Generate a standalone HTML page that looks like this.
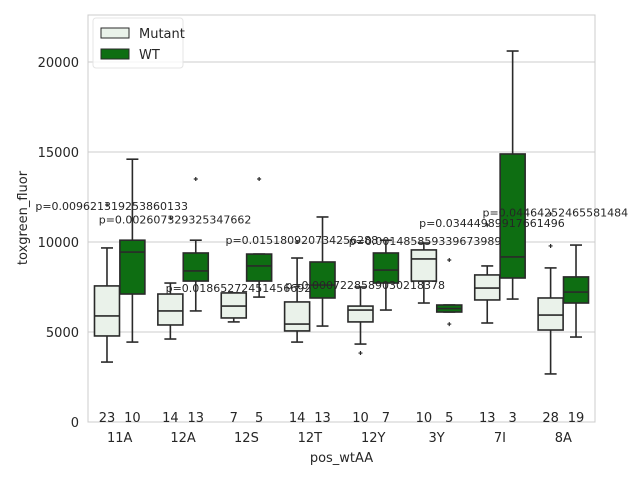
<!DOCTYPE html>
<html><head><meta charset="utf-8"><style>body{margin:0;background:#fff}svg{font-family:"DejaVu Sans","Liberation Sans",sans-serif}</style></head>
<body>
<svg id="c" width="640" height="480"></svg>
<script>
const categories=["11A","12A","12S","12T","12Y","3Y","7I","8A"];
const mutLow=[3330,4610,5560,4440,4330,6610,5500,2670];
const mutQ1=[4780,5390,5780,5060,5560,7830,6780,5110];
const mutMed=[5890,6170,6440,5440,6220,9060,7440,5940];
const mutQ3=[7560,7110,7170,6670,6440,9560,8170,6890];
const mutHigh=[9670,7720,7170,9110,7500,9940,8670,8560];
const wtLow=[4440,6170,6940,5330,6220,6110,6830,4720];
const wtQ1=[7110,7830,7830,6890,7720,6110,8000,6610];
const wtMed=[9440,8390,8670,7610,8440,6300,9170,7220];
const wtQ3=[10100,9390,9330,8890,9390,6500,14890,8060];
const wtHigh=[14600,10100,9330,11390,10100,6500,20610,9830];
const mutOutliers=[[12060],[11330],[],[10000],[3830],[],[10940],[11560,9780]];
const wtOutliers=[[],[13500],[13500],[],[],[9000,5440],[],[]];
const mutN=[23,14,7,14,10,10,13,28];
const wtN=[10,13,5,13,7,5,3,19];
const pValues=["p=0.009621319253860133","p=0.002607329325347662","p=0.01865272451456692","p=0.015180920734256288","p=0.0007228589030218378","p=0.0014858593396739892","p=0.03444989917661496","p=0.04464252465581484"];
const pLevels=[12000,11250,7450,10100,7600,10050,11050,11650];
const yTicks=[0,5000,10000,15000,20000];
const L=88,R=595,T=15,B=422,YMAX=22611;
const y=v=>B-(v/YMAX)*(B-T);
const bw=(R-L)/categories.length;
const x=i=>L+bw*(i+0.5);
const svg=document.getElementById('c');
const NS="http://www.w3.org/2000/svg";
function mk(tag,attrs,parent){const e=document.createElementNS(NS,tag);for(const k in attrs)e.setAttribute(k,attrs[k]);(parent||svg).appendChild(e);return e;}
const frame=mk('rect',{x:L,y:T,width:R-L,height:B-T,fill:'#fff',stroke:'#ccc'});


yTicks.forEach(t=>{
 const g=mk('line',{x1:L,x2:R,y1:y(t),y2:y(t),stroke:'#ccc'});
 
 
 const tl=mk('text',{x:L-9,y:y(t)+5,'text-anchor':'end','font-size':13,fill:'#262626'});tl.textContent=t;
 
 
});
function box(cx,lo,q1,md,q3,hi,outs,fill,name){
 const g=mk('g',{});
 
 
 const w=25,c='#2a2a2a';
 mk('line',{x1:cx,x2:cx,y1:y(hi),y2:y(q3),stroke:c,'stroke-width':1.6},g);
 mk('line',{x1:cx,x2:cx,y1:y(q1),y2:y(lo),stroke:c,'stroke-width':1.6},g);
 mk('line',{x1:cx-6,x2:cx+6,y1:y(hi),y2:y(hi),stroke:c,'stroke-width':1.6},g);
 mk('line',{x1:cx-6,x2:cx+6,y1:y(lo),y2:y(lo),stroke:c,'stroke-width':1.6},g);
 mk('rect',{x:cx-w/2,y:y(q3),width:w,height:Math.max(y(q1)-y(q3),1),fill:fill,stroke:c,'stroke-width':1.6},g);
 mk('line',{x1:cx-w/2,x2:cx+w/2,y1:y(md),y2:y(md),stroke:c,'stroke-width':1.6},g);
 outs.forEach(o=>mk('path',{d:`M${cx-2} ${y(o)}h4M${cx} ${y(o)-2}v4`,stroke:c,'stroke-width':1.2},g));
}
categories.forEach((cat,i)=>{
 box(x(i)-12.7,mutLow[i],mutQ1[i],mutMed[i],mutQ3[i],mutHigh[i],mutOutliers[i],'#eaf2ea','box-mutant-'+cat);
 box(x(i)+12.7,wtLow[i],wtQ1[i],wtMed[i],wtQ3[i],wtHigh[i],wtOutliers[i],'#0e6e12','box-wt-'+cat);
 const n1=mk('text',{x:x(i)-12.7,y:B,'text-anchor':'middle','font-size':13,fill:'#262626'});n1.textContent=mutN[i];
 
 
 const n2=mk('text',{x:x(i)+12.7,y:B,'text-anchor':'middle','font-size':13,fill:'#262626'});n2.textContent=wtN[i];
 
 
 const tl=mk('text',{x:x(i),y:B+20,'text-anchor':'middle','font-size':13,fill:'#262626'});tl.textContent=cat;
 
 
 const p=mk('text',{x:x(i)-8,y:y(pLevels[i])+4,'text-anchor':'middle','font-size':11,fill:'#262626'});p.textContent=pValues[i];
 
 
});
const xt=mk('text',{x:(L+R)/2,y:462,'text-anchor':'middle','font-size':13,fill:'#262626'});xt.textContent='pos_wtAA';


const yt=mk('text',{x:0,y:0,transform:'translate(27,218) rotate(-90)','text-anchor':'middle','font-size':13,fill:'#262626'});yt.textContent='toxgreen_fluor';


const lg=mk('g',{});


mk('rect',{x:93,y:18,width:90,height:50,rx:3,fill:'#fff','fill-opacity':0.8,stroke:'#e4e4e4'},lg);
mk('rect',{x:101,y:28,width:28,height:10,fill:'#eaf2ea',stroke:'#2a2a2a'},lg);
mk('rect',{x:101,y:49,width:28,height:10,fill:'#0e6e12',stroke:'#2a2a2a'},lg);
const l1=mk('text',{x:139,y:38,'font-size':13,fill:'#262626'},lg);l1.textContent='Mutant';


const l2=mk('text',{x:139,y:59,'font-size':13,fill:'#262626'},lg);l2.textContent='WT';


</script>
</body></html>
